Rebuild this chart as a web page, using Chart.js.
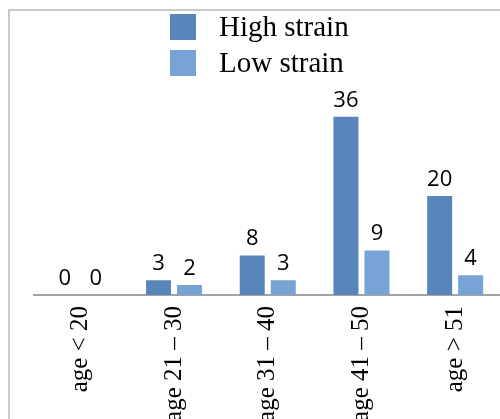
<!DOCTYPE html>
<html>
<head>
<meta charset="utf-8">
<script src="https://cdn.jsdelivr.net/npm/chart.js@4"></script>
<style>
  html, body { margin: 0; padding: 0; overflow: hidden; background: #fff; }
  #wrap { position: absolute; left: 0; top: 0; width: 505px; height: 460px; }
  #frame { position: absolute; left: 8px; top: 9px; width: 600px; height: 600px;
           border-top: 2px solid #cacaca; border-left: 2px solid #cacaca; pointer-events: none; }
</style>
</head>
<body>
<div id="wrap"><canvas id="grafico"></canvas></div>
<div id="frame"></div>
<script>
// dados do gráfico
const categorias = ['age < 20', 'age 21 \u2013 30', 'age 31 \u2013 40', 'age 41 \u2013 50', 'age > 51'];
const highStrain = [0, 3, 8, 36, 20];
const lowStrain = [0, 2, 3, 9, 4];
const nomesSeries = ['High strain', 'Low strain'];
const cores = ['#5886ba', '#78a3d5'];

// desenha os valores em cima das barras
const rotulosValores = {
  id: 'rotulosValores',
  afterDatasetsDraw(chart) {
    const ctx = chart.ctx;
    ctx.save();
    ctx.font = '22px "Open Sans"';
    ctx.fillStyle = '#000';
    ctx.textAlign = 'center';
    ctx.textBaseline = 'alphabetic';
    chart.data.datasets.forEach(function(ds, i) {
      chart.getDatasetMeta(i).data.forEach(function(bar, j) {
        ctx.fillText(ds.data[j], bar.x, bar.y - 10);
      });
    });
    ctx.restore();
  }
};

// legenda vertical (um item por linha)
const legendaVertical = {
  id: 'legendaVertical',
  afterDraw(chart) {
    const ctx = chart.ctx;
    ctx.save();
    ctx.font = '29px "Liberation Serif"';
    ctx.textBaseline = 'middle';
    ctx.textAlign = 'left';
    chart.data.datasets.forEach(function(ds, i) {
      const y = 14 + i * 36;
      ctx.fillStyle = ds.backgroundColor;
      ctx.fillRect(170, y, 26, 26);
      ctx.fillStyle = '#000';
      ctx.fillText(ds.label, 219, y + 14);
    });
    ctx.restore();
  }
};

const ctx = document.getElementById('grafico').getContext('2d');
const grafico = new Chart(ctx, {
  type: 'bar',
  data: {
    labels: categorias,
    datasets: [
      { label: nomesSeries[0], data: highStrain, backgroundColor: cores[0] },
      { label: nomesSeries[1], data: lowStrain, backgroundColor: cores[1] }
    ]
  },
  options: {
    responsive: true,
    maintainAspectRatio: false,
    animation: false,
    categoryPercentage: 0.662,
    barPercentage: 0.806,
    layout: { padding: { left: 33.5, right: 3, top: 97, bottom: 35 } },
    plugins: {
      legend: { display: false },
      tooltip: { enabled: false }
    },
    scales: {
      x: {
        grid: { display: false, drawTicks: false },
        border: { display: true, color: '#a3a3a3', width: 2 },
        ticks: {
          color: '#000',
          font: { family: 'Liberation Serif', size: 25 },
          minRotation: 90,
          maxRotation: 90,
          padding: 11,
          autoSkip: false
        },
        afterFit: function(scale) { scale.height = 130; }
      },
      y: {
        display: false,
        min: 0,
        max: 40
      }
    }
  },
  plugins: [rotulosValores, legendaVertical]
});
</script>
</body>
</html>
